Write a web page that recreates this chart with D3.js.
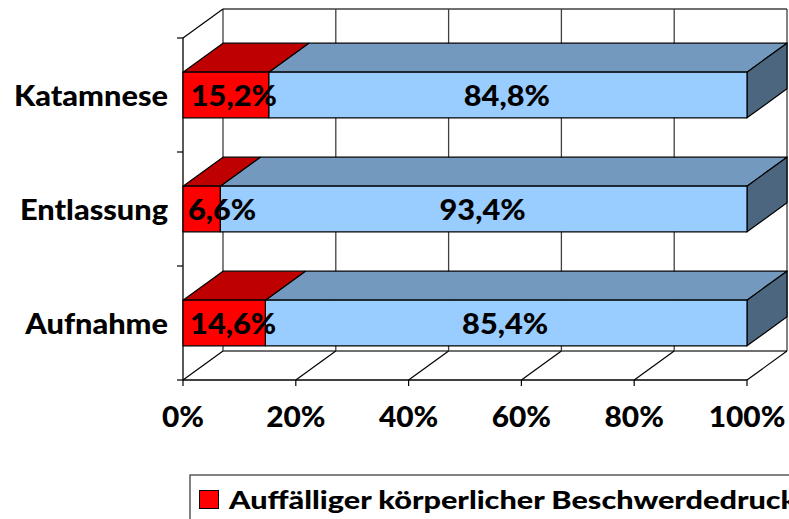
<!DOCTYPE html>
<html><head><meta charset="utf-8">
<script src="https://d3js.org/d3.v7.min.js"></script>
<style>html,body{margin:0;background:#fff}svg{display:block}text{font-family:Lato,sans-serif;font-weight:900;fill:#000}</style>
</head><body><script>
const categories = ["Katamnese","Entlassung","Aufnahme"];
const conspicuous = [15.2,6.6,14.6];
const inconspicuous = [84.8,93.4,85.4];
const xTicks = [0,20,40,60,80,100];
const legendLabels = ["Auffälliger körperlicher Beschwerdedruck"];
const fmt = v => v.toFixed(1).replace(".",",")+"%";

const W=789,H=519, dx=40, dy=-29;
const svg=d3.select("body").append("svg").attr("width",W).attr("height",H);
const x=d3.scaleLinear().domain([0,100]).range([183,747]);
const y=d3.scaleBand().domain(categories).range([38,380]).paddingInner(0.6).paddingOuter(0.3);
const line="#000", grid="#404040";
const yTop=y.range()[0], yBot=y.range()[1];
const label=(sel,str,tx,ty,anchor,size,sx)=>sel.append("text")
  .attr("transform",`translate(${tx},${ty}) scale(${sx},1)`)
  .attr("text-anchor",anchor).attr("font-size",size).text(str);

// back wall gridlines, floor diagonals
const g=svg.append("g").attr("fill","none");
g.selectAll(".v").data(xTicks).join("line").attr("stroke",grid).attr("stroke-width",1.3)
 .attr("x1",d=>x(d)+dx).attr("x2",d=>x(d)+dx).attr("y1",yTop+dy).attr("y2",yBot+dy);
g.append("line").attr("stroke",grid).attr("stroke-width",1.3).attr("x1",x(0)+dx).attr("x2",x(100)+dx).attr("y1",yTop+dy).attr("y2",yTop+dy);
g.append("line").attr("stroke",grid).attr("stroke-width",1.3).attr("x1",x(0)+dx).attr("x2",x(100)+dx).attr("y1",yBot+dy).attr("y2",yBot+dy);
g.selectAll(".d").data(xTicks).join("line").attr("stroke",line).attr("stroke-width",1.2)
 .attr("x1",d=>x(d)).attr("x2",d=>x(d)+dx).attr("y1",yBot).attr("y2",yBot+dy);
g.append("line").attr("stroke",line).attr("stroke-width",1.2).attr("x1",x(0)).attr("x2",x(0)+dx).attr("y1",yTop).attr("y2",yTop+dy);

// axes
g.append("line").attr("stroke",line).attr("stroke-width",1.3).attr("x1",x(0)).attr("x2",x(0)).attr("y1",yTop).attr("y2",yBot);
g.append("line").attr("stroke",line).attr("stroke-width",1.3).attr("x1",x(0)).attr("x2",x(100)).attr("y1",yBot).attr("y2",yBot);
g.selectAll(".tx").data(xTicks).join("line").attr("stroke",line).attr("stroke-width",1.2)
 .attr("x1",d=>x(d)).attr("x2",d=>x(d)).attr("y1",yBot).attr("y2",yBot+6);
const step=(yBot-yTop)/categories.length;
g.selectAll(".ty").data(d3.range(categories.length+1)).join("line").attr("stroke",line).attr("stroke-width",1.2)
 .attr("x1",x(0)-6).attr("x2",x(0)).attr("y1",i=>yTop+i*step).attr("y2",i=>yTop+i*step);

// bars
const poly=p=>p.map(q=>q.join(",")).join(" ");
const seg=(sel,x0,x1,yy,h,front,topc,side)=>{
  const a=x(x0),b=x(x1);
  const gg=sel.append("g").attr("stroke","#000").attr("stroke-width",1.2).attr("stroke-linejoin","round");
  gg.append("polygon").attr("fill",topc).attr("points",poly([[a,yy],[a+dx,yy+dy],[b+dx,yy+dy],[b,yy]]));
  if(side) gg.append("polygon").attr("fill",side).attr("points",poly([[b,yy],[b+dx,yy+dy],[b+dx,yy+h+dy],[b,yy+h]]));
  gg.append("rect").attr("fill",front).attr("x",a).attr("y",yy).attr("width",b-a).attr("height",h);
};
const bars=svg.append("g"), labels=svg.append("g");
const pctOffset=[8,20.5,9];
categories.forEach((c,i)=>{
  const yy=y(c),h=y.bandwidth(),s=bars.append("g");
  seg(s,conspicuous[i],conspicuous[i]+inconspicuous[i],yy,h,"#99CCFF","#7399BF","#4D667F");
  seg(s,0,conspicuous[i],yy,h,"#FF0000","#BF0000",null);
  const ty=yy+h/2+11;
  label(labels,fmt(conspicuous[i]),x(conspicuous[i]/2)+pctOffset[i],ty,"middle",29,1.06);
  label(labels,fmt(inconspicuous[i]),x(conspicuous[i]+inconspicuous[i]/2)-1,ty,"middle",29,1.06);
  label(labels,c,168,ty,"end",29,1.06);
});
xTicks.forEach(d=>label(svg,d+"%",x(d),427,"middle",29,1.03));

// legend
svg.append("rect").attr("x",190).attr("y",475).attr("width",640).attr("height",80).attr("fill","#fff").attr("stroke","#404040").attr("stroke-width",1.3);
svg.append("rect").attr("x",199.5).attr("y",490.5).attr("width",19).attr("height",18).attr("fill","#FF0000").attr("stroke","#000").attr("stroke-width",1);
label(svg,legendLabels[0],229,509,"start",25,1.225);
</script></body></html>
